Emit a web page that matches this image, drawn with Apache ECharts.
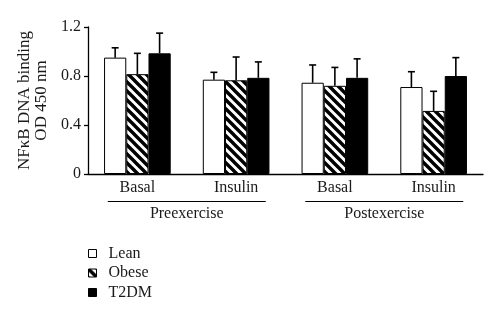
<!DOCTYPE html>
<html>
<head>
<meta charset="utf-8">
<script src="https://cdn.jsdelivr.net/npm/echarts@6/dist/echarts.min.js"></script>
<style>
  html, body { margin: 0; padding: 0; background: #fff; }
  #chart { width: 500px; height: 323px; }
</style>
</head>
<body>
<div id="chart"></div>
<script>
// Conditions on the x axis and the phase each pair belongs to
var categories = ['Basal', 'Insulin', 'Basal', 'Insulin'];
var phases = ['Preexercise', 'Postexercise'];
var seriesNames = ['Lean', 'Obese', 'T2DM'];

// NFκB DNA binding (OD 450 nm): means and upper error (SD/SE)
var leanMean = [0.95, 0.77, 0.745, 0.71];
var obeseMean = [0.815, 0.765, 0.72, 0.515];
var t2dmMean = [0.985, 0.785, 0.785, 0.80];
var leanErr = [0.08, 0.06, 0.145, 0.125];
var obeseErr = [0.17, 0.19, 0.15, 0.16];
var t2dmErr = [0.165, 0.13, 0.155, 0.15];

var yTicks = [0, 0.4, 0.8, 1.2];

var FONT = '"Liberation Serif", "DejaVu Serif", serif';
var INK = '#1a1a1a';
var CAT_GAP = 0.325;

// Diagonal hatch tile for the Obese bars
function hatchTile() {
  var s = 9;
  var c = document.createElement('canvas');
  c.width = s; c.height = s;
  var g = c.getContext('2d');
  g.fillStyle = '#fff';
  g.fillRect(0, 0, s, s);
  g.strokeStyle = '#000';
  g.lineWidth = 3.4;
  g.beginPath();
  for (var k = -1; k <= 1; k++) {
    g.moveTo(k * s - 2, -2);
    g.lineTo(k * s + s + 2, s + 2);
  }
  g.stroke();
  return c;
}

var fills = ['#ffffff', { image: hatchTile(), repeat: 'repeat' }, '#000000'];
var means = [leanMean, obeseMean, t2dmMean];
var errs = [leanErr, obeseErr, t2dmErr];

var chart = echarts.init(document.getElementById('chart'), null, { renderer: 'canvas' });

var series = [];
seriesNames.forEach(function (name, i) {
  series.push({
    name: name,
    type: 'bar',
    data: means[i],
    barGap: '0%',
    barCategoryGap: (CAT_GAP * 100) + '%',
    itemStyle: { color: fills[i], borderColor: '#000', borderWidth: 1 },
    emphasis: { disabled: true },
    z: 2
  });
});

// Upper error whiskers with caps, placed over each bar
seriesNames.forEach(function (name, i) {
  series.push({
    type: 'custom',
    name: name + ' error',
    data: means[i].map(function (m, j) { return [j, m, m + errs[i][j]]; }),
    z: 1,
    silent: true,
    renderItem: function (params, api) {
      var band = api.size([1, 0])[0];
      var bw = band * (1 - CAT_GAP) / 3;
      var base = api.coord([api.value(0), api.value(1)]);
      var top = api.coord([api.value(0), api.value(2)]);
      var x = base[0] + (i - 1) * bw;
      var half = 3.5;
      return {
        type: 'group',
        children: [
          { type: 'line', shape: { x1: x, y1: base[1], x2: x, y2: top[1] },
            style: { stroke: '#000', lineWidth: 1.6 } },
          { type: 'line', shape: { x1: x - half, y1: top[1], x2: x + half, y2: top[1] },
            style: { stroke: '#000', lineWidth: 1.6 } }
        ]
      };
    },
    encode: { x: 0, y: [1, 2] }
  });
});

chart.setOption({
  animation: false,
  backgroundColor: '#fff',
  textStyle: { fontFamily: FONT, color: INK },
  grid: { left: 88, right: 17, top: 27, bottom: 149, containLabel: false },
  legend: {
    data: seriesNames,
    orient: 'vertical',
    left: 88,
    top: 245.5,
    padding: 0,
    itemWidth: 8,
    itemHeight: 8,
    itemGap: 3.5,
    icon: 'rect',
    selectedMode: false,
    itemStyle: { borderColor: '#000', borderWidth: 1 },
    textStyle: { fontFamily: FONT, fontSize: 16, color: INK, padding: [0, 0, 0, 7], lineHeight: 16 }
  },
  xAxis: {
    type: 'category',
    data: categories,
    axisLine: { lineStyle: { color: '#000', width: 1.3 } },
    axisTick: { show: false },
    axisLabel: { fontFamily: FONT, fontSize: 16, color: INK, margin: 6 }
  },
  yAxis: {
    type: 'value',
    min: yTicks[0],
    max: yTicks[yTicks.length - 1],
    interval: 0.4,
    name: 'NF\u03BAB DNA binding\nOD 450 nm',
    nameLocation: 'middle',
    nameGap: 35,
    nameRotate: 90,
    nameTextStyle: { fontFamily: FONT, fontSize: 17, color: INK, lineHeight: 17 },
    axisLine: { show: true, lineStyle: { color: '#000', width: 1.3 } },
    axisTick: { show: true, length: 4, lineStyle: { color: '#000', width: 1.3 } },
    splitLine: { show: false },
    axisLabel: {
      fontFamily: FONT, fontSize: 16, color: INK, margin: 7,
      formatter: function (v) { return v === 0 ? '0' : v.toFixed(1); }
    }
  },
  series: series
});

// Phase brackets under each pair of conditions
function drawPhases() {
  var band = chart.convertToPixel({ xAxisIndex: 0 }, 1) - chart.convertToPixel({ xAxisIndex: 0 }, 0);
  var lineY = 201.5;
  var items = [];
  phases.forEach(function (p, k) {
    var c0 = chart.convertToPixel({ xAxisIndex: 0 }, 2 * k);
    var c1 = chart.convertToPixel({ xAxisIndex: 0 }, 2 * k + 1);
    items.push({
      type: 'line',
      shape: { x1: c0 - 0.3 * band, y1: lineY, x2: c1 + 0.3 * band, y2: lineY },
      style: { stroke: '#000', lineWidth: 1.2 }
    });
    items.push({
      type: 'text',
      x: (c0 + c1) / 2,
      y: lineY + 12,
      style: { text: p, font: '16px ' + FONT, fill: INK, align: 'center', verticalAlign: 'middle' }
    });
  });
  chart.setOption({ graphic: items });
}
drawPhases();
</script>
</body>
</html>
